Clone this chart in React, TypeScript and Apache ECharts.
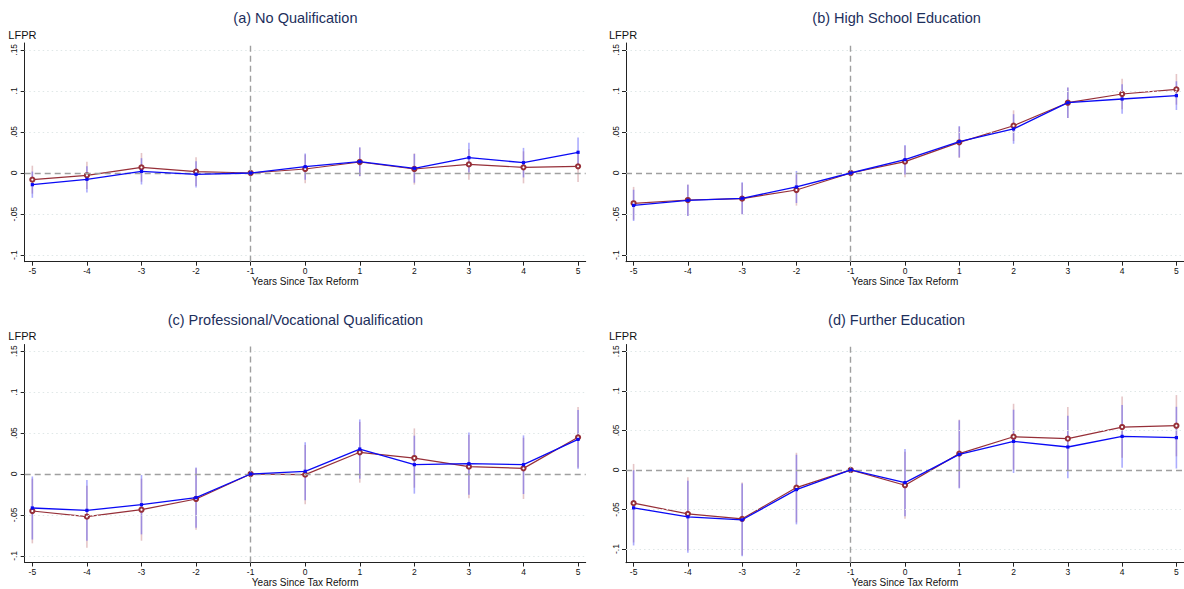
import React, { useEffect, useRef } from 'react';
import * as echarts from 'echarts';

// ---------- data ----------
const years = [-5, -4, -3, -2, -1, 0, 1, 2, 3, 4, 5];
const yTickValues = [-0.1, -0.05, 0, 0.05, 0.1, 0.15];
const yGridValues = [-0.1, -0.05, 0.05, 0.1, 0.15];

const titles = [
  '(a) No Qualification',
  '(b) High School Education',
  '(c) Professional/Vocational Qualification',
  '(d) Further Education',
];

// (a) No Qualification
const aBlue = [-0.0142, -0.0077, 0.002, -0.0016, 0, 0.0077, 0.0138, 0.0057, 0.0187, 0.0126, 0.0252];
const aBlueCI = [0.016, 0.016, 0.016, 0.016, null, 0.016, 0.0175, 0.0175, 0.018, 0.018, 0.018];
const aRed = [-0.0081, -0.0028, 0.0069, 0.0016, 0, 0.0049, 0.0134, 0.0049, 0.0105, 0.0069, 0.0081];
const aRedCI = [0.017, 0.0166, 0.0175, 0.0175, null, 0.0175, 0.0175, 0.019, 0.0187, 0.0195, 0.019];

// (b) High School Education
const bBlue = [-0.0394, -0.0333, -0.0308, -0.017, 0, 0.0162, 0.0381, 0.0536, 0.0856, 0.0901, 0.0942];
const bBlueCI = [0.019, 0.019, 0.0195, 0.0195, null, 0.018, 0.019, 0.018, 0.0185, 0.018, 0.0175];
const bRed = [-0.0369, -0.0329, -0.0312, -0.0207, 0, 0.0138, 0.0373, 0.0576, 0.0856, 0.0962, 0.1019];
const bRedCI = [0.02, 0.019, 0.019, 0.019, null, 0.019, 0.019, 0.0187, 0.0185, 0.0187, 0.0187];

// (c) Professional/Vocational Qualification
const cBlue = [-0.0415, -0.0444, -0.0375, -0.0289, 0, 0.0033, 0.0305, 0.0114, 0.0126, 0.0114, 0.0423];
const cBlueCI = [0.0385, 0.037, 0.0362, 0.0368, null, 0.0354, 0.0362, 0.0354, 0.038, 0.0358, 0.0358];
const cRed = [-0.0452, -0.0521, -0.0436, -0.0305, 0, -0.0008, 0.0265, 0.0195, 0.009, 0.0069, 0.0448];
const cRedCI = [0.0395, 0.0379, 0.0379, 0.0375, null, 0.0362, 0.0371, 0.0362, 0.0387, 0.0374, 0.037];

// (d) Further Education
const dBlue = [-0.0479, -0.0592, -0.063, -0.0248, 0, -0.016, 0.0197, 0.0361, 0.029, 0.0424, 0.0408];
const dBlueCI = [0.0475, 0.0455, 0.046, 0.044, null, 0.0424, 0.043, 0.04, 0.0395, 0.0395, 0.039];
const dRed = [-0.042, -0.0555, -0.0618, -0.0223, 0, -0.0193, 0.0206, 0.042, 0.0395, 0.0542, 0.0559];
const dRedCI = [0.0496, 0.0462, 0.046, 0.044, null, 0.0424, 0.043, 0.0416, 0.0399, 0.0387, 0.0387];

const blueSeries = [aBlue, bBlue, cBlue, dBlue];
const blueCIs = [aBlueCI, bBlueCI, cBlueCI, dBlueCI];
const redSeries = [aRed, bRed, cRed, dRed];
const redCIs = [aRedCI, bRedCI, cRedCI, dRedCI];

// axis ranges per panel
const yMins = [-0.108, -0.108, -0.1081, -0.1172];
const yMaxs = [0.1583, 0.1583, 0.1582, 0.1585];
const xMin = -5.14;
const xMax = 5.14;

// ---------- layout ----------
const grids = [
  { left: 24.7, top: 43, width: 561, height: 218.7 },
  { left: 626, top: 43, width: 561, height: 218.7 },
  { left: 24.7, top: 344.5, width: 561, height: 218 },
  { left: 626, top: 344.5, width: 561, height: 218.2 },
];
const titlePos = [
  [295.4, 18],
  [896.6, 18],
  [295.4, 320],
  [896.6, 320],
];
const lfprPos = [
  [8.3, 35],
  [609, 35],
  [8.3, 335.7],
  [609, 335.7],
];

const FONT = '"Liberation Sans", Arial, Helvetica, sans-serif';
const BLUE = '#0a0af5';
const RED = '#962f38';
const BLUE_CI = 'rgba(70,70,250,0.45)';
const RED_CI = 'rgba(190,110,115,0.4)';

function fmtY(v: number) {
  if (Math.abs(v) < 1e-9) return '0';
  const s = String(Math.round(v * 1000) / 1000);
  return s.replace('0.', '.');
}

function ciRender(color: string) {
  return (params: any, api: any) => {
    const x = api.value(0);
    const lo = api.value(1);
    const hi = api.value(2);
    if (isNaN(lo) || isNaN(hi)) return null;
    const p1 = api.coord([x, lo]);
    const p2 = api.coord([x, hi]);
    return {
      type: 'line',
      shape: { x1: p1[0], y1: p1[1], x2: p2[0], y2: p2[1] },
      style: { stroke: color, lineWidth: 1.6 },
    };
  };
}

function buildOption() {
  const xAxis: any[] = [];
  const yAxis: any[] = [];
  const series: any[] = [];
  const graphic: any[] = [];

  for (let i = 0; i < 4; i++) {
    xAxis.push({
      type: 'value',
      gridIndex: i,
      min: xMin,
      max: xMax,
      name: 'Years Since Tax Reform',
      nameLocation: 'middle',
      nameGap: 15,
      nameTextStyle: { fontFamily: FONT, fontSize: 10, color: '#111', verticalAlign: 'top' },
      axisLine: { show: true, onZero: false, lineStyle: { color: '#222', width: 1 } },
      axisTick: { show: true, length: 4, inside: false, customValues: years, lineStyle: { color: '#222' } },
      axisLabel: {
        show: true,
        customValues: years,
        fontFamily: FONT,
        fontSize: 8.5,
        color: '#111',
        margin: 5,
        formatter: (v: number) => String(Math.round(v)),
      },
      splitLine: { show: false },
    });
    yAxis.push({
      type: 'value',
      gridIndex: i,
      min: yMins[i],
      max: yMaxs[i],
      axisLine: { show: true, onZero: false, lineStyle: { color: '#222', width: 1 } },
      axisTick: { show: true, length: 4, customValues: yTickValues, lineStyle: { color: '#222' } },
      axisLabel: {
        show: true,
        customValues: yTickValues,
        rotate: 90,
        fontFamily: FONT,
        fontSize: 8.5,
        color: '#111',
        margin: 6,
        formatter: (v: number) => fmtY(v),
      },
      splitLine: { show: false },
    });

    // reference & grid lines
    series.push({
      type: 'line',
      xAxisIndex: i,
      yAxisIndex: i,
      data: [],
      silent: true,
      z: 1,
      markLine: {
        silent: true,
        symbol: 'none',
        animation: false,
        label: { show: false },
        data: [
          ...yGridValues.map((v) => ({
            yAxis: v,
            lineStyle: { color: '#dfe7e7', width: 1, type: [1.5, 3] },
          })),
          { yAxis: 0, lineStyle: { color: '#9f9f9f', width: 1.4, type: [6, 4] } },
          { xAxis: -1, lineStyle: { color: '#9f9f9f', width: 1.4, type: [6, 4] } },
        ],
      },
    });

    const redCIData = years.map((x, j) => {
      const h = redCIs[i][j];
      return h == null ? [x, NaN, NaN] : [x, redSeries[i][j] - h, redSeries[i][j] + h];
    });
    const blueCIData = years.map((x, j) => {
      const h = blueCIs[i][j];
      return h == null ? [x, NaN, NaN] : [x, blueSeries[i][j] - h, blueSeries[i][j] + h];
    });

    series.push({
      type: 'custom',
      xAxisIndex: i,
      yAxisIndex: i,
      z: 2,
      silent: true,
      renderItem: ciRender(RED_CI),
      encode: { x: 0, y: [1, 2] },
      data: redCIData,
    });
    series.push({
      type: 'custom',
      xAxisIndex: i,
      yAxisIndex: i,
      z: 3,
      silent: true,
      renderItem: ciRender(BLUE_CI),
      encode: { x: 0, y: [1, 2] },
      data: blueCIData,
    });
    series.push({
      type: 'line',
      xAxisIndex: i,
      yAxisIndex: i,
      z: 4,
      data: years.map((x, j) => [x, redSeries[i][j]]),
      symbol: 'emptyCircle',
      symbolSize: 4.2,
      showSymbol: true,
      lineStyle: { color: RED, width: 1.2 },
      itemStyle: { color: RED, borderWidth: 1 },
    });
    series.push({
      type: 'line',
      xAxisIndex: i,
      yAxisIndex: i,
      z: 5,
      data: years.map((x, j) => [x, blueSeries[i][j]]),
      symbol: 'rect',
      symbolSize: 3.2,
      showSymbol: true,
      lineStyle: { color: BLUE, width: 1.3 },
      itemStyle: { color: BLUE },
    });

    graphic.push({
      type: 'text',
      x: titlePos[i][0],
      y: titlePos[i][1],
      silent: true,
      style: {
        text: titles[i],
        fill: '#1d2f5c',
        font: `14.5px ${FONT}`,
        align: 'center',
        verticalAlign: 'middle',
        textAlign: 'center',
        textVerticalAlign: 'middle',
      },
    });
    graphic.push({
      type: 'text',
      x: lfprPos[i][0],
      y: lfprPos[i][1],
      silent: true,
      style: {
        text: 'LFPR',
        fill: '#111',
        font: `11px ${FONT}`,
        align: 'left',
        verticalAlign: 'middle',
        textAlign: 'left',
        textVerticalAlign: 'middle',
      },
    });
  }

  return {
    animation: false,
    backgroundColor: '#ffffff',
    grid: grids.map((g) => ({ ...g, containLabel: false })),
    xAxis,
    yAxis,
    series,
    graphic,
  };
}

export default function App() {
  const ref = useRef<HTMLDivElement>(null);
  useEffect(() => {
    if (!ref.current) return;
    const chart = echarts.init(ref.current, undefined, { renderer: 'svg' });
    chart.setOption(buildOption() as any);
    return () => chart.dispose();
  }, []);
  return (
    <div
      ref={ref}
      style={{ position: 'fixed', left: 0, top: 0, width: 1184, height: 589, background: '#fff' }}
    />
  );
}
